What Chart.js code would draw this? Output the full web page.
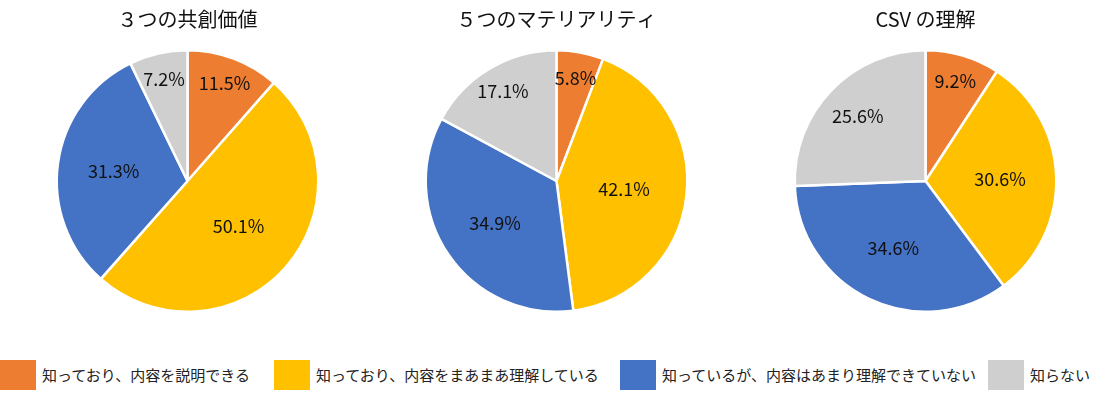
<!DOCTYPE html>
<html>
<head>
<meta charset="utf-8">
<script src="https://cdn.jsdelivr.net/npm/chart.js@4"></script>
<style>
    body { margin: 0; width: 1113px; height: 400px; background: #fff; overflow: hidden;
           font-family: "Noto Sans CJK JP", "Noto Sans", sans-serif; }
    .pies { position: absolute; top: 0; left: 0; width: 1113px; height: 313px; }
    .pie { position: absolute; top: 0; width: 371px; height: 313px; }
    .legend { position: absolute; left: 0; top: 360px; width: 1113px; height: 30px; }
    .item { position: absolute; top: 0; height: 30px; line-height: 30px; font-size: 15px; color: #222; white-space: nowrap; }
    .item span { display: inline-block; width: 36px; height: 30px; vertical-align: top; margin-right: 6px; }
</style>
</head>
<body>
<div class="pies">
    <div class="pie" style="left:2px"><canvas id="c0"></canvas></div>
    <div class="pie" style="left:371px"><canvas id="c1"></canvas></div>
    <div class="pie" style="left:740px"><canvas id="c2"></canvas></div>
</div>
<div class="legend" id="legend"></div>
<script>
const categories = ['知っており、内容を説明できる', '知っており、内容をまあまあ理解している', '知っているが、内容はあまり理解できていない', '知らない'];
const titles = ['３つの共創価値', '５つのマテリアリティ', 'CSV の理解'];
const kyosoValues = [11.5, 50.1, 31.3, 7.2];
const materialityValues = [5.8, 42.1, 34.9, 17.1];
const csvValues = [9.2, 30.6, 34.6, 25.6];

const colors = ['#ED7D31', '#FFC000', '#4472C4', '#CFCFCF'];
const legendLeft = [0, 274, 620, 988];

// percent labels, small slices pushed further out (like excel's best fit)
const pieLabels = {
    id: 'pieLabels',
    afterDatasetsDraw(chart) {
        const ctx = chart.ctx;
        const meta = chart.getDatasetMeta(0);
        ctx.save();
        ctx.font = '18px "Noto Sans CJK JP", "Noto Sans", sans-serif';
        ctx.fillStyle = '#111';
        ctx.textAlign = 'center';
        ctx.textBaseline = 'middle';
        meta.data.forEach((arc, i) => {
            const v = chart.data.datasets[0].data[i];
            let frac = 0.8;
            if (v >= 40) frac = 0.52;
            else if (v >= 30) frac = 0.57;
            else if (v >= 20) frac = 0.72;
            const mid = (arc.startAngle + arc.endAngle) / 2;
            const x = arc.x + Math.cos(mid) * arc.outerRadius * frac;
            const y = arc.y + Math.sin(mid) * arc.outerRadius * frac;
            ctx.fillText(v.toFixed(1) + '%', x, y);
        });
        ctx.restore();
    }
};

function makePie(id, title, values) {
    new Chart(document.getElementById(id), {
        type: 'pie',
        data: {
            labels: categories,
            datasets: [{
                data: values,
                backgroundColor: colors,
                borderColor: '#fff',
                borderWidth: 2.5
            }]
        },
        options: {
            responsive: true,
            maintainAspectRatio: false,
            animation: false,
            layout: { padding: 0 },
            plugins: {
                legend: { display: false },
                tooltip: { enabled: false },
                title: {
                    display: true,
                    text: title,
                    color: '#111',
                    font: { size: 20, weight: 'normal', family: '"Noto Sans CJK JP", "Noto Sans", sans-serif' },
                    padding: { top: 7, bottom: 18 }
                }
            }
        },
        plugins: [pieLabels]
    });
}

makePie('c0', titles[0], kyosoValues);
makePie('c1', titles[1], materialityValues);
makePie('c2', titles[2], csvValues);

let legend = document.getElementById('legend');
categories.forEach((name, i) => {
    let item = document.createElement('div');
    item.className = 'item';
    item.style.left = legendLeft[i] + 'px';
    item.innerHTML = '<span style="background:' + colors[i] + '"></span>' + name;
    legend.appendChild(item);
});
</script>
</body>
</html>
